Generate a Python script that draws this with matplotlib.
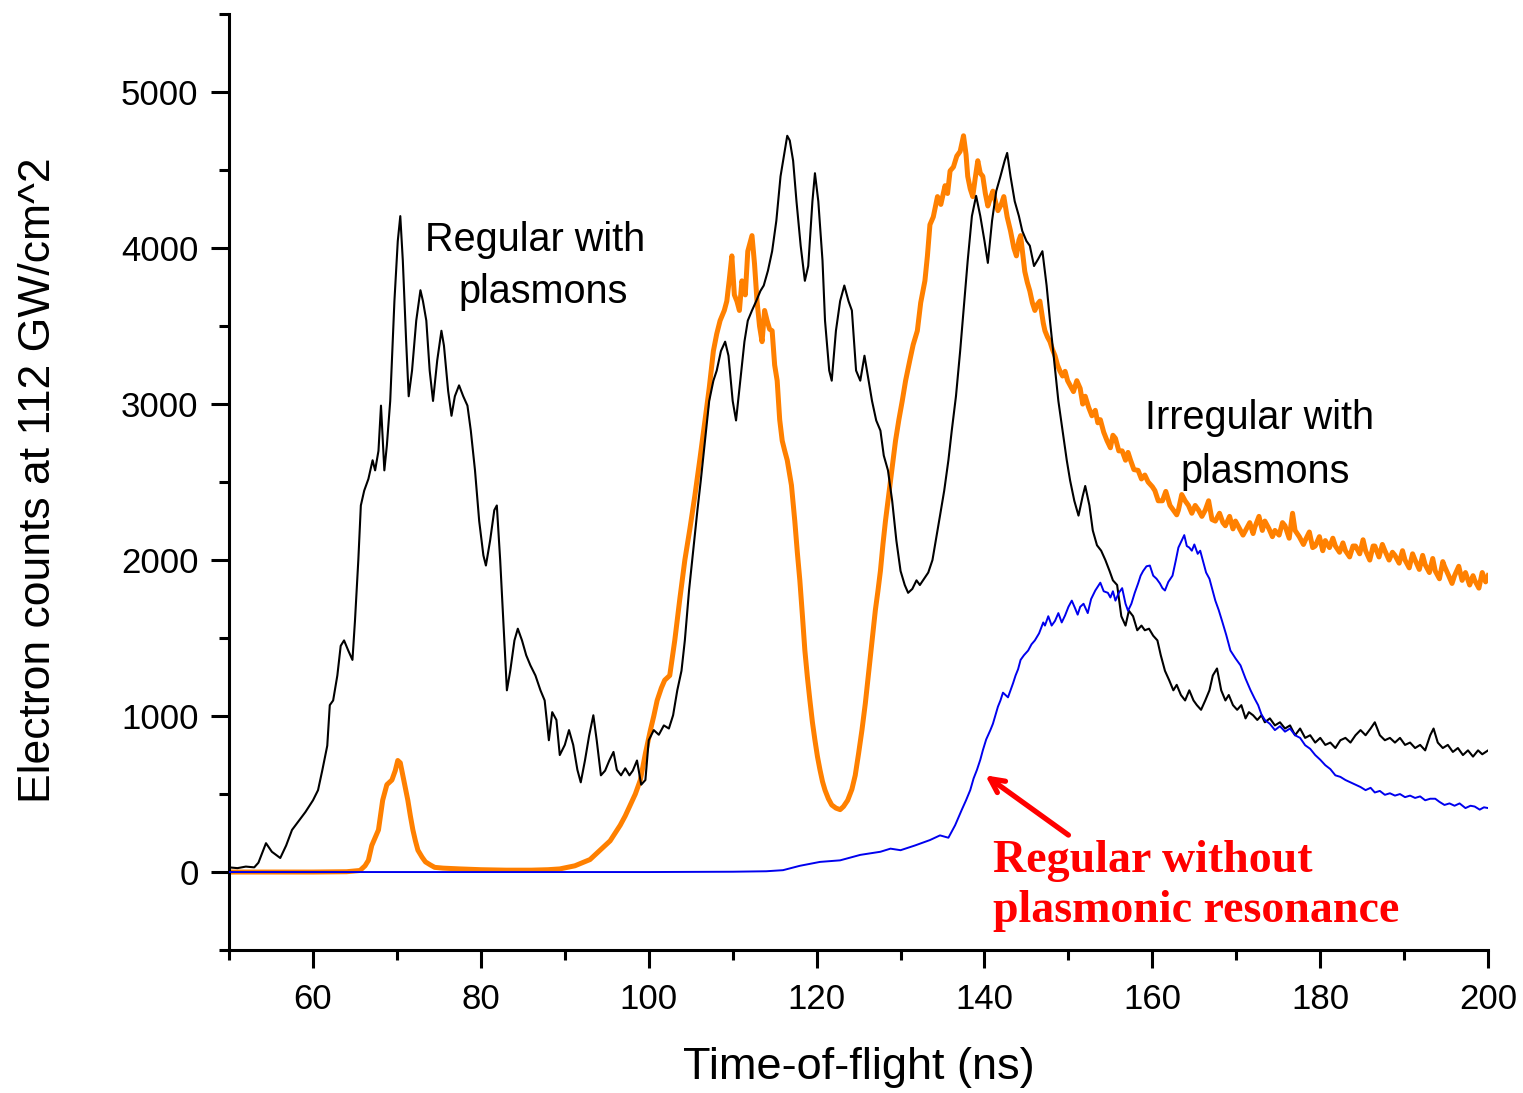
import matplotlib
matplotlib.use("Agg")
import matplotlib.pyplot as plt
from matplotlib.ticker import MultipleLocator

# Time-of-flight samples (ns) and electron counts for each sample type
regular_t = [50.0, 51.0, 52.0, 53.0, 53.5, 54.4, 55.1, 56.1, 56.8, 57.5, 58.2, 59.1, 60.0, 60.6, 61.1, 61.7,
             62.0, 62.4, 62.9, 63.3, 63.7, 64.2, 64.7, 65.0, 65.4, 65.7, 66.1, 66.6, 67.1, 67.4, 67.8, 68.1,
             68.5, 68.8, 69.2, 69.7, 70.1, 70.4, 70.7, 71.1, 71.4, 71.8, 72.3, 72.8, 73.1, 73.5, 73.9, 74.3,
             74.8, 75.3, 75.6, 76.1, 76.5, 76.9, 77.4, 77.9, 78.4, 78.8, 79.3, 79.8, 80.3, 80.6, 81.1, 81.6,
             81.9, 82.3, 82.8, 83.1, 83.5, 84.0, 84.4, 84.9, 85.4, 85.9, 86.5, 87.1, 87.6, 88.1, 88.5, 89.0,
             89.4, 90.0, 90.5, 91.0, 91.5, 91.9, 92.4, 92.9, 93.4, 93.8, 94.3, 94.8, 95.3, 95.8, 96.2, 96.7,
             97.2, 97.7, 98.1, 98.6, 99.1, 99.6, 100.0, 100.6, 101.2, 101.8, 102.4, 102.9, 103.4, 103.9, 104.3,
             104.8, 105.3, 105.8, 106.2, 106.7, 107.2, 107.7, 108.1, 108.6, 109.1, 109.5, 110.0, 110.4, 110.9,
             111.4, 111.8, 112.3, 112.8, 113.3, 113.7, 114.2, 114.7, 115.2, 115.7, 116.2, 116.5, 116.8, 117.2,
             117.6, 118.1, 118.6, 119.0, 119.5, 119.8, 120.2, 120.7, 121.0, 121.5, 121.8, 122.3, 122.8, 123.3,
             123.8, 124.2, 124.7, 125.2, 125.7, 126.1, 126.6, 127.1, 127.6, 128.0, 128.5, 129.0, 129.5, 130.0,
             130.5, 130.9, 131.4, 131.9, 132.3, 132.8, 133.3, 133.8, 134.2, 134.7, 135.2, 135.7, 136.1, 136.6,
             137.1, 137.6, 138.0, 138.5, 139.0, 139.5, 140.0, 140.4, 140.9, 141.4, 141.9, 142.4, 142.7, 143.1,
             143.6, 144.1, 144.5, 145.0, 145.4, 145.9, 146.4, 146.9, 147.4, 147.8, 148.3, 148.8, 149.3, 149.8,
             150.2, 150.7, 151.2, 151.7, 152.0, 152.5, 152.9, 153.4, 153.9, 154.4, 154.9, 155.3, 155.8, 156.3,
             156.8, 157.2, 157.7, 158.2, 158.7, 159.1, 159.6, 160.1, 160.6, 161.0, 161.5, 162.0, 162.5, 162.9,
             163.4, 163.9, 164.4, 164.9, 165.3, 165.8, 166.3, 166.8, 167.2, 167.7, 168.2, 168.7, 169.1, 169.6,
             170.1, 170.6, 171.1, 171.5, 172.0, 172.5, 173.0, 173.4, 174.0, 174.6, 175.2, 175.8, 176.4, 177.0,
             177.6, 178.2, 178.8, 179.4, 180.0, 180.6, 181.2, 181.8, 182.4, 183.0, 183.6, 184.2, 184.8, 185.4,
             186.0, 186.5, 187.1, 187.7, 188.3, 188.9, 189.5, 190.1, 190.7, 191.3, 191.9, 192.5, 193.1, 193.5,
             194.0, 194.6, 195.2, 195.8, 196.4, 197.0, 197.6, 198.2, 198.8, 199.3, 200.0]
regular_counts = [30, 25, 35, 30, 60, 185, 130, 90, 170, 270, 320, 385, 460, 525, 650, 810,
                  1070, 1100, 1260, 1450, 1485, 1420, 1360, 1610, 2000, 2350, 2445, 2520, 2640, 2575, 2700, 2990,
                  2575, 2735, 3020, 3660, 4045, 4205, 3920, 3400, 3050, 3215, 3535, 3730, 3660, 3535, 3215, 3020,
                  3280, 3470, 3375, 3085, 2925, 3050, 3120, 3050, 2990, 2830, 2575, 2250, 2030, 1965, 2125, 2320,
                  2350, 2000, 1485, 1165, 1290, 1485, 1560, 1485, 1390, 1325, 1260, 1165, 1100, 845, 1025, 975,
                  750, 815, 910, 815, 655, 575, 715, 875, 1005, 845, 620, 650, 715, 770, 655, 620,
                  665, 620, 650, 715, 560, 590, 845, 910, 880, 940, 920, 1005, 1165, 1290, 1485,
                  1805, 2060, 2320, 2510, 2765, 3020, 3150, 3215, 3340, 3400, 3310, 3020, 2895, 3150,
                  3400, 3535, 3600, 3660, 3725, 3760, 3855, 3980, 4175, 4460, 4620, 4720, 4690, 4560,
                  4300, 4015, 3790, 3885, 4300, 4480, 4300, 3920, 3535, 3215, 3150, 3470, 3660, 3760,
                  3660, 3600, 3215, 3150, 3310, 3180, 3020, 2895, 2830, 2670, 2575, 2380, 2125, 1930,
                  1840, 1790, 1815, 1870, 1840, 1880, 1920, 2000, 2125, 2285, 2445, 2640, 2830, 3050,
                  3340, 3660, 3920, 4205, 4335, 4205, 4045, 3905, 4175, 4365, 4460, 4560, 4610, 4460,
                  4300, 4205, 4110, 4045, 4015, 3885, 3930, 3980, 3760, 3535, 3280, 3020, 2830, 2640,
                  2510, 2380, 2285, 2410, 2475, 2350, 2190, 2095, 2060, 2000, 1930, 1870, 1840, 1640,
                  1580, 1675, 1640, 1550, 1580, 1550, 1560, 1515, 1485, 1390, 1290, 1230, 1165, 1200,
                  1135, 1100, 1165, 1100, 1070, 1040, 1100, 1165, 1260, 1305, 1165, 1100, 1135, 1070,
                  1040, 1070, 985, 1025, 1005, 975, 1005, 960, 985, 940, 960, 920, 940, 877,
                  920, 860, 877, 830, 860, 815, 830, 795, 845, 860, 830, 877, 910, 877,
                  920, 960, 877, 845, 860, 830, 860, 815, 830, 795, 815, 780, 877, 920,
                  830, 795, 815, 770, 795, 750, 780, 740, 780, 755, 780]

irregular_t = [50.0, 55.0, 60.0, 64.0, 65.6, 66.2, 66.6, 67.0, 67.4, 67.8, 68.3, 68.8, 69.4, 69.8, 70.1, 70.4,
               70.7, 71.0, 71.3, 71.6, 71.9, 72.2, 72.5, 73.0, 73.4, 74.0, 74.5, 75.5, 77.5, 80.0, 83.0, 86.0,
               88.0, 89.4, 90.3, 91.2, 92.1, 93.0, 93.6, 94.2, 94.8, 95.4, 96.0, 96.6, 97.2, 97.8, 98.4, 99.0,
               99.6, 100.2, 100.6, 101.0, 101.5, 101.9, 102.5, 103.1, 103.7, 104.3, 104.9, 105.5, 106.1, 106.7,
               107.2, 107.7, 108.1, 108.5, 109.0, 109.3, 109.6, 109.9, 110.2, 110.5, 110.8, 111.1, 111.5, 111.8,
               112.3, 112.6, 112.9, 113.2, 113.5, 113.8, 114.1, 114.4, 114.7, 115.0, 115.3, 115.6, 115.9, 116.2,
               116.5, 117.0, 117.4, 117.7, 118.0, 118.3, 118.6, 118.9, 119.2, 119.5, 119.8, 120.1, 120.4, 120.7,
               121.0, 121.4, 121.8, 122.3, 122.8, 123.2, 123.7, 124.2, 124.6, 125.0, 125.4, 125.8, 126.1, 126.5,
               127.0, 127.3, 127.6, 127.9, 128.2, 128.5, 128.8, 129.1, 129.4, 129.8, 130.2, 130.6, 131.1, 131.5,
               132.0, 132.4, 132.9, 133.2, 133.5, 133.9, 134.4, 134.8, 135.3, 135.6, 135.9, 136.3, 136.7, 137.1,
               137.5, 137.8, 138.0, 138.3, 138.6, 138.9, 139.2, 139.5, 139.8, 140.1, 140.4, 140.7, 141.0, 141.3,
               141.6, 142.0, 142.3, 142.7, 143.1, 143.5, 143.8, 144.1, 144.3, 144.8, 145.1, 145.4, 145.7, 146.0,
               146.3, 146.6, 147.0, 147.2, 147.5, 147.8, 148.1, 148.4, 148.7, 149.0, 149.3, 149.6, 149.9, 150.2,
               150.6, 151.0, 151.4, 151.7, 152.0, 152.4, 152.8, 153.2, 153.5, 153.8, 154.2, 154.6, 155.0, 155.3,
               155.6, 156.0, 156.4, 156.8, 157.1, 157.4, 157.8, 158.3, 158.7, 159.1, 159.5, 160.0, 160.3, 160.7,
               161.2, 161.6, 162.1, 162.5, 162.9, 163.1, 163.5, 163.9, 164.3, 164.7, 165.1, 165.5, 165.9, 166.3,
               166.7, 167.1, 167.5, 168.0, 168.4, 168.7, 169.2, 169.6, 169.9, 170.4, 170.8, 171.1, 171.6, 172.0,
               172.2, 172.7, 173.1, 173.4, 173.9, 174.3, 174.6, 175.1, 175.5, 175.8, 176.3, 176.7, 177.0, 177.5,
               178.0, 178.2, 178.7, 179.1, 179.4, 179.9, 180.3, 180.6, 181.1, 181.5, 181.8, 182.3, 182.7, 183.0,
               183.5, 183.9, 184.2, 184.7, 185.1, 185.4, 185.9, 186.3, 186.5, 187.0, 187.4, 187.7, 188.2, 188.6,
               188.9, 189.4, 189.8, 190.1, 190.6, 191.0, 191.3, 191.8, 192.2, 192.5, 193.0, 193.4, 193.7, 194.2,
               194.6, 194.8, 195.3, 195.7, 196.0, 196.5, 196.9, 197.3, 197.8, 198.2, 198.4, 198.9, 199.3, 199.7,
               200.0]
irregular_counts = [0, 0, 0, 2, 10, 40, 75, 170, 220, 270, 460, 560, 590, 650, 715, 700,
                    620, 540, 460, 360, 270, 200, 140, 95, 65, 45, 30, 25, 20, 15, 12, 12,
                    15, 20, 30, 40, 60, 80, 110, 140, 170, 200, 250, 300, 360, 430, 500, 590,
                    760, 910, 1000, 1100, 1180, 1230, 1260, 1485, 1750, 2000, 2200, 2415, 2650, 2895,
                    3100, 3340, 3450, 3535, 3600, 3660, 3800, 3950, 3700, 3660, 3600, 3790, 3700, 3980,
                    4080, 3900, 3660, 3500, 3400, 3600, 3535, 3480, 3470, 3250, 3150, 2900, 2765, 2700,
                    2640, 2480, 2250, 2050, 1870, 1650, 1420, 1250, 1100, 960, 845, 740, 655, 580,
                    525, 470, 430, 410, 400, 420, 460, 530, 620, 760, 910, 1080, 1230, 1430,
                    1680, 1800, 1930, 2100, 2250, 2380, 2510, 2640, 2765, 2900, 3020, 3150, 3280, 3380,
                    3470, 3650, 3790, 3950, 4150, 4200, 4330, 4280, 4400, 4350, 4495, 4520, 4590, 4620,
                    4720, 4600, 4460, 4380, 4330, 4450, 4560, 4480, 4460, 4350, 4270, 4320, 4365, 4300,
                    4240, 4280, 4330, 4200, 4110, 4000, 3950, 4050, 4080, 3850, 3780, 3725, 3650, 3600,
                    3640, 3660, 3520, 3470, 3430, 3400, 3350, 3310, 3250, 3210, 3180, 3210, 3150, 3120,
                    3080, 3150, 3100, 3000, 3050, 2980, 2925, 2960, 2880, 2900, 2820, 2765, 2720, 2800,
                    2780, 2700, 2700, 2640, 2690, 2640, 2580, 2575, 2520, 2545, 2500, 2470, 2445, 2380,
                    2380, 2440, 2350, 2320, 2290, 2320, 2420, 2380, 2350, 2300, 2350, 2320, 2280, 2320,
                    2380, 2260, 2250, 2300, 2240, 2220, 2280, 2200, 2250, 2200, 2160, 2190, 2240, 2170,
                    2210, 2280, 2190, 2250, 2200, 2150, 2190, 2160, 2240, 2220, 2140, 2300, 2190, 2150,
                    2100, 2125, 2180, 2080, 2090, 2150, 2060, 2125, 2080, 2140, 2090, 2050, 2110, 2060,
                    2020, 2090, 2090, 2040, 2130, 2060, 2000, 2090, 2090, 2020, 2100, 2060, 2000, 2050,
                    2030, 1980, 2060, 2000, 1950, 2040, 2000, 1940, 2030, 1970, 1920, 2010, 1930, 1880,
                    1990, 1960, 1900, 1850, 1900, 1960, 1870, 1920, 1840, 1900, 1870, 1820, 1920, 1860,
                    1900]

bare_t = [50.0, 80.0, 100.0, 110.0, 114.0, 116.0, 118.0, 120.4, 122.8, 125.2, 127.6, 128.8, 130.0, 131.7,
          133.5, 134.7, 135.7, 136.5, 137.3, 137.8, 138.3, 138.7, 139.1, 139.5, 139.8, 140.2, 140.7, 141.0,
          141.3, 141.6, 141.9, 142.2, 142.5, 142.8, 143.1, 143.4, 143.7, 144.0, 144.3, 144.7, 145.2, 145.6,
          146.0, 146.5, 147.0, 147.2, 147.6, 148.0, 148.4, 148.8, 149.2, 149.6, 150.0, 150.4, 150.8, 151.1,
          151.4, 151.8, 152.3, 152.7, 153.2, 153.5, 153.8, 154.2, 154.7, 155.0, 155.3, 155.6, 156.0, 156.4,
          156.8, 157.1, 157.5, 157.9, 158.3, 158.6, 158.9, 159.3, 159.7, 160.1, 160.5, 160.9, 161.2, 161.5,
          161.9, 162.4, 162.8, 163.1, 163.5, 163.8, 164.1, 164.4, 164.7, 165.0, 165.4, 165.7, 166.1, 166.4,
          166.8, 167.1, 167.5, 167.9, 168.3, 168.8, 169.3, 169.9, 170.5, 171.1, 171.7, 172.2, 172.6, 173.0,
          173.4, 174.0, 174.6, 175.2, 175.8, 176.4, 177.0, 177.6, 178.2, 178.8, 179.4, 180.0, 180.6, 181.2,
          181.8, 182.4, 183.0, 183.6, 184.2, 184.8, 185.4, 186.0, 186.5, 187.1, 187.7, 188.3, 188.9, 189.5,
          190.1, 190.7, 191.3, 191.9, 192.5, 193.1, 193.7, 194.2, 194.8, 195.4, 196.0, 196.6, 197.3, 197.9,
          198.4, 199.0, 199.5, 200.0]
bare_counts = [0, 0, 0, 2, 5, 12, 40, 65, 75, 110, 130, 150, 140, 170,
               205, 235, 220, 300, 400, 460, 525, 600, 655, 720, 780, 850, 910, 950,
               1005, 1060, 1100, 1150, 1135, 1120, 1165, 1210, 1260, 1300, 1360, 1390, 1420, 1460,
               1485, 1530, 1600, 1580, 1640, 1580, 1610, 1660, 1600, 1645, 1700, 1740, 1690, 1650,
               1700, 1720, 1660, 1750, 1805, 1830, 1855, 1800, 1790, 1760, 1800, 1740, 1790, 1820,
               1720, 1675, 1720, 1790, 1850, 1900, 1930, 1960, 1965, 1900, 1880, 1850, 1820, 1805,
               1860, 1900, 2000, 2080, 2125, 2160, 2090, 2080, 2060, 2100, 2040, 2060, 1980, 1920,
               1880, 1820, 1740, 1680, 1610, 1520, 1420, 1370, 1325, 1240, 1165, 1110, 1070, 1010,
               975, 950, 910, 935, 900, 920, 877, 860, 813, 790, 750, 720, 685, 660,
               620, 610, 590, 575, 560, 545, 525, 540, 510, 520, 495, 505, 490, 500,
               480, 490, 475, 485, 460, 470, 470, 450, 430, 440, 425, 440, 410, 425,
               420, 400, 415, 410]

x_ticks = [60, 80, 100, 120, 140, 160, 180, 200]
y_ticks = [0, 1000, 2000, 3000, 4000, 5000]

plt.rcParams['font.family'] = ['Liberation Sans', 'DejaVu Sans']

fig = plt.figure(figsize=(15.23, 10.93), dpi=100)
ax = fig.add_axes([0.1504, 0.1308, 0.8267, 0.8563])

ax.plot(irregular_t, irregular_counts, color='#ff8000', lw=3.6, zorder=2)
ax.plot(regular_t, regular_counts, color='black', lw=1.5, zorder=3)
ax.plot(bare_t, bare_counts, color='#0000ee', lw=1.4, zorder=4)

ax.set_xlim(50, 200)
ax.set_ylim(-500, 5500)
ax.set_xticks(x_ticks)
ax.set_yticks(y_ticks)
ax.xaxis.set_minor_locator(MultipleLocator(10))
ax.yaxis.set_minor_locator(MultipleLocator(500))

for side in ('top', 'right'):
    ax.spines[side].set_visible(False)
for side in ('left', 'bottom'):
    ax.spines[side].set_linewidth(2.2)

ax.tick_params(which='major', direction='out', length=13, width=2.2, labelsize=25)
ax.tick_params(which='minor', direction='out', length=7, width=2.2)
ax.tick_params(axis='x', which='major', pad=11)
ax.tick_params(axis='y', which='major', pad=9)

ax.set_xlabel('Time-of-flight (ns)', fontsize=32.5)
ax.set_ylabel('Electron counts at 112 GW/cm^2', fontsize=32)
ax.xaxis.set_label_coords(0.5, -0.104)
ax.yaxis.set_label_coords(-0.135, 0.502)

ax.text(86.5, 3982, 'Regular with', fontsize=28.5, ha='center', va='baseline')
ax.text(87.4, 3649, 'plasmons', fontsize=28.5, ha='center', va='baseline')
ax.text(172.8, 2842, 'Irregular with', fontsize=28.5, ha='center', va='baseline')
ax.text(173.4, 2497, 'plasmons', fontsize=28.5, ha='center', va='baseline')

ax.text(141.0, 0, 'Regular without', fontsize=33, color='#ff0000', fontweight='bold',
        family=['Liberation Serif', 'DejaVu Serif'], ha='left', va='baseline')
ax.text(141.0, -320, 'plasmonic resonance', fontsize=33, color='#ff0000', fontweight='bold',
        family=['Liberation Serif', 'DejaVu Serif'], ha='left', va='baseline')
ax.annotate('', xy=(140.1, 620), xytext=(150.0, 237),
            arrowprops=dict(arrowstyle='->,head_length=1.0,head_width=0.5', color='#ff0000', lw=3.8,
                            shrinkA=0, shrinkB=0))

fig.savefig('out.png', dpi=100)
